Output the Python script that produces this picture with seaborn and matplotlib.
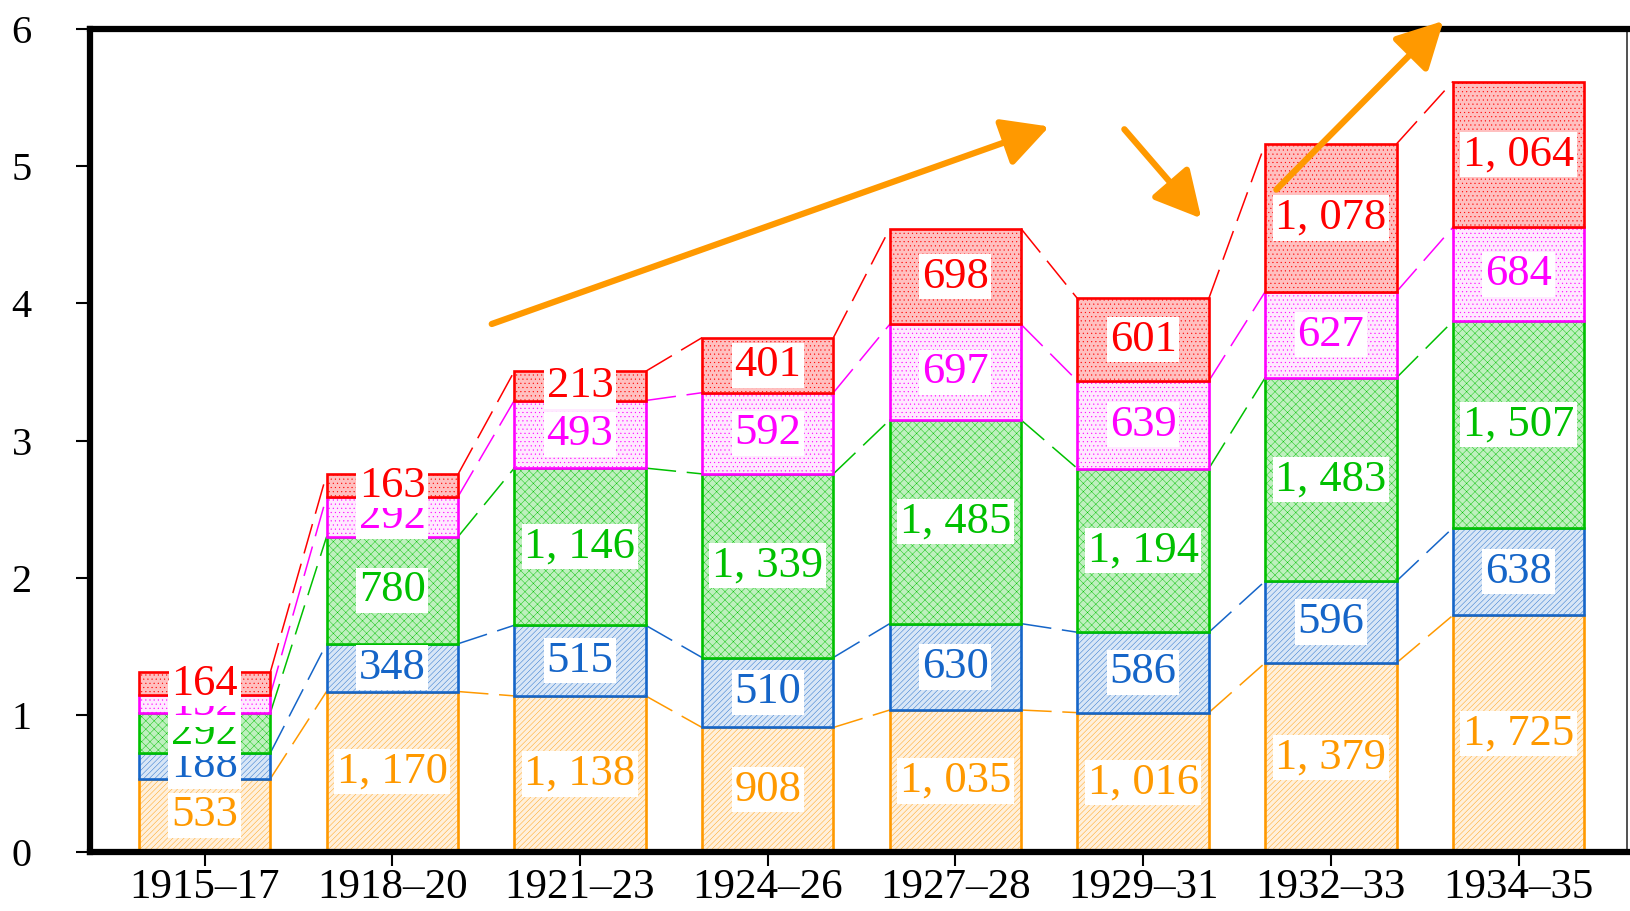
import numpy as np
import pandas as pd
import matplotlib
matplotlib.use("Agg")
import matplotlib.pyplot as plt
import seaborn as sns

# ===============================================================
# DATA
# ===============================================================
periods = ["1915–17", "1918–20", "1921–23", "1924–26",
           "1927–28", "1929–31", "1932–33", "1934–35"]
orange_vals = [533, 1170, 1138, 908, 1035, 1016, 1379, 1725]
blue_vals = [188, 348, 515, 510, 630, 586, 596, 638]
green_vals = [292, 780, 1146, 1339, 1485, 1194, 1483, 1507]
magenta_vals = [132, 292, 493, 592, 697, 639, 627, 684]
red_vals = [164, 163, 213, 401, 698, 601, 1078, 1064]

series = [orange_vals, blue_vals, green_vals, magenta_vals, red_vals]
edge_colors = ["#FF9900", "#1565C8", "#00C000", "#FF00FF", "#FF0000"]
face_colors = ["#FFF0DC", "#D8E6F6", "#BFF0BF", "#FFEAFF", "#FFC0C0"]
hatches = ["//////", "//////", "xxxx", "....", "...."]

# ===============================================================
# STYLE
# ===============================================================
sns.set_style("white")
plt.rcParams["font.family"] = ["Liberation Serif", "DejaVu Serif"]
plt.rcParams["hatch.linewidth"] = 0.3

fig = plt.figure(figsize=(16.31, 9.11), dpi=100)
ax = fig.add_axes([0.0552, 0.0648, 0.9426, 0.9032])

bar_w = 0.7
bottom = np.zeros(len(periods))
tops = []
for vals, ec, fc, h in zip(series, edge_colors, face_colors, hatches):
    df = pd.DataFrame({"period": periods, "value": np.array(vals) / 1000})
    sns.barplot(data=df, x="period", y="value", ax=ax, width=bar_w,
                color=fc, saturation=1, bottom=bottom.copy(),
                facecolor=fc, edgecolor=ec, linewidth=1.9, hatch=h,
                errorbar=None, zorder=2)
    mid = bottom + df["value"].values / 2
    bottom = bottom + df["value"].values
    tops.append(bottom.copy())
    for i, v in enumerate(vals):
        ax.text(i, mid[i], f"{v:,}".replace(",", ", "), color=ec,
                fontsize=32, ha="center", va="center", zorder=5,
                bbox=dict(boxstyle="square,pad=0.06", fc="white", ec="none"))

# dashed connectors between neighbouring bars
for top, ec in zip(tops, edge_colors):
    for i in range(len(periods) - 1):
        ax.plot([i + bar_w / 2, i + 1 - bar_w / 2], [top[i], top[i + 1]],
                color=ec, lw=1.1, dashes=(20, 7), zorder=1)

# trend arrows
arrows = [((1.53, 3.85), (4.50, 5.29)),
          ((4.90, 5.27), (5.31, 4.62)),
          ((5.71, 4.83), (6.60, 6.06))]
for start, end in arrows:
    ax.annotate("", xy=end, xytext=start, annotation_clip=False,
                arrowprops=dict(arrowstyle="-|>,head_length=0.95,head_width=0.5",
                                color="#FF9900", lw=4.5, mutation_scale=30,
                                shrinkA=0, shrinkB=0), zorder=6)

ax.set_xlim(-0.61, 7.58)
ax.set_ylim(0, 6)
ax.set_yticks(range(7))
ax.set_xlabel("")
ax.set_ylabel("")
ax.tick_params(axis="y", labelsize=29, direction="out", length=10, width=1.5,
               pad=32, left=True, color="black", labelcolor="black")
ax.tick_params(axis="x", labelsize=31, direction="out", length=10, width=1.5,
               pad=2, bottom=True, color="black", labelcolor="black")
for s in ["left", "top", "bottom"]:
    ax.spines[s].set_linewidth(4.5)
    ax.spines[s].set_color("black")
ax.spines["right"].set_linewidth(1.2)
ax.spines["right"].set_color("#333333")

fig.savefig("out.png", dpi=100)
